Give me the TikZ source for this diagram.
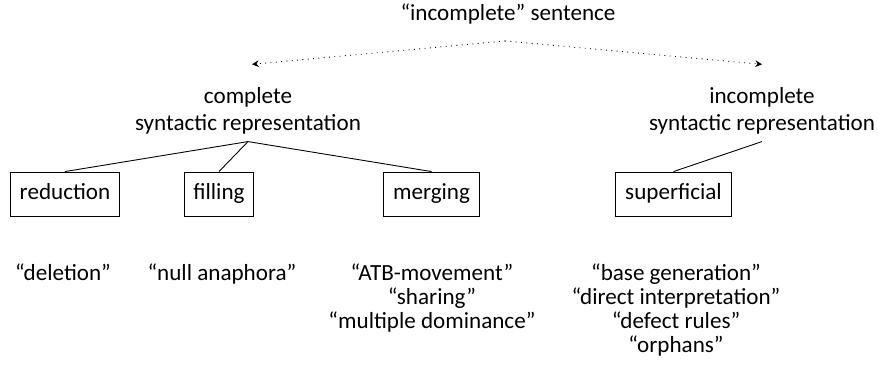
\documentclass[tikz,border=0pt]{standalone}
\usepackage{fontspec}
\setmainfont{Carlito}
\usetikzlibrary{arrows.meta}

\begin{document}
\begin{tikzpicture}[x=0.45pt, y=-0.45pt, font=\fontsize{10.4}{12}\selectfont,
Label/.style={align=center},
Box/.style={draw, inner xsep=4.2pt, minimum height=19.8pt, text height=1.6ex, text depth=0.5ex},
Example/.style={align=center, anchor=north, font=\fontsize{10.4}{10.8}\selectfont},
DottedArrow/.style={dotted, -{Stealth[length=3pt, width=3pt]}}]
\useasboundingbox (0,0) rectangle (879,364);
\node [Label] (sentence) at (508,14) {“incomplete” sentence};
\node [Label] (complete) at (248,110.5) {complete\\syntactic representation};
\node [Label] (incomplete) at (762,110.5) {incomplete\\syntactic representation};
\draw [DottedArrow] ([xshift=-1.3pt, yshift=-4pt]sentence.south) -- ([xshift=1.8pt, yshift=6.8pt]complete.north);
\draw [DottedArrow] ([xshift=-1.3pt, yshift=-4pt]sentence.south) -- ([yshift=6.8pt]incomplete.north);
\foreach \name/\pos in {reduction/65, filling/219, merging/431.5, superficial/673.5} {
  \node [Box] (\name) at (\pos, 194) {\name};
}
\foreach \name in {reduction, filling, merging} {
  \draw (complete.south) -- (\name.north);
}
\draw (incomplete.south) -- (superficial.north);
\foreach \name/\pos/\text in {
  deletion/63/{“deletion”},
  nullAnaphora/222/{“null anaphora”},
  atbMovement/432/{“ATB-movement”\\“sharing”\\“multiple dominance”},
  baseGeneration/676/{“base generation”\\“direct interpretation”\\“defect rules”\\“orphans”}%
} {
  \node [Example] (\name) at (\pos, 256) {\text};
}
\end{tikzpicture}
\end{document}
